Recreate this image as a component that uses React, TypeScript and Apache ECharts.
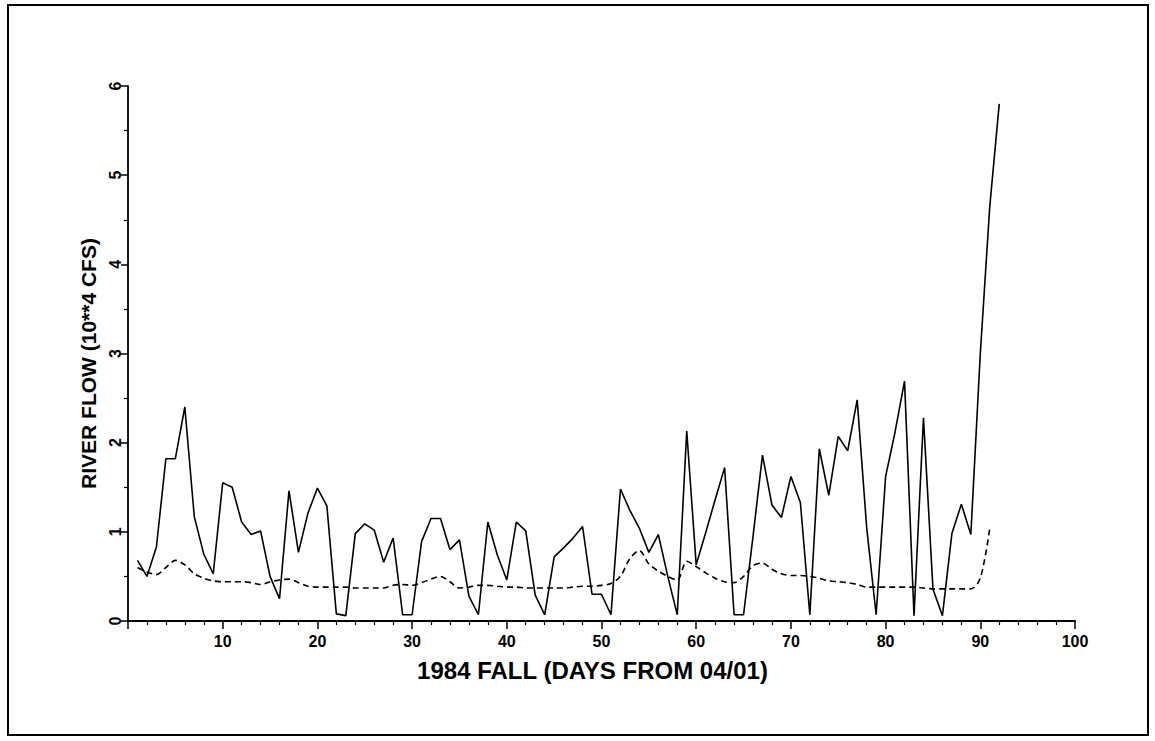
import React, { useEffect, useRef } from "react";
import * as echarts from "echarts";

// Daily river flow (10**4 CFS), days 1..92 from 04/01
const flowObserved: number[] = [
  0.68, 0.5, 0.83, 1.82, 1.82, 2.4, 1.17, 0.75, 0.53, 1.55,
  1.5, 1.11, 0.97, 1.01, 0.5, 0.25, 1.46, 0.77, 1.21, 1.49,
  1.29, 0.08, 0.06, 0.98, 1.09, 1.02, 0.66, 0.93, 0.07, 0.07,
  0.89, 1.15, 1.15, 0.8, 0.91, 0.28, 0.07, 1.11, 0.74, 0.46,
  1.11, 1.01, 0.29, 0.07, 0.72, 0.82, 0.93, 1.06, 0.3, 0.3,
  0.07, 1.48, 1.24, 1.04, 0.77, 0.97, 0.5, 0.07, 2.13, 0.63,
  0.99, 1.36, 1.72, 0.07, 0.07, 0.95, 1.86, 1.3, 1.16, 1.62,
  1.33, 0.07, 1.93, 1.41, 2.07, 1.91, 2.48, 1.05, 0.07, 1.62,
  2.12, 2.69, 0.06, 2.28, 0.36, 0.06, 0.98, 1.31, 0.97, 3.0,
  4.65, 5.8,
];

// Smoothed / baseline flow (dashed), days 1..91
const flowBaseline: number[] = [
  0.6, 0.55, 0.52, 0.6, 0.68, 0.63, 0.53, 0.48, 0.45, 0.44,
  0.44, 0.44, 0.43, 0.41, 0.44, 0.46, 0.47, 0.43, 0.39, 0.38,
  0.38, 0.38, 0.38, 0.37, 0.37, 0.37, 0.37, 0.4, 0.41, 0.4,
  0.43, 0.47, 0.5, 0.44, 0.37, 0.38, 0.4, 0.4, 0.39, 0.38,
  0.38, 0.37, 0.37, 0.37, 0.37, 0.37, 0.38, 0.39, 0.39, 0.4,
  0.42, 0.5, 0.7, 0.79, 0.64, 0.56, 0.5, 0.46, 0.67, 0.61,
  0.54, 0.48, 0.44, 0.43, 0.5, 0.62, 0.65, 0.58, 0.53, 0.51,
  0.51, 0.5, 0.48, 0.45, 0.44, 0.43, 0.41, 0.38, 0.38, 0.38,
  0.38, 0.38, 0.38, 0.37, 0.36, 0.36, 0.36, 0.36, 0.36, 0.48,
  1.04,
];

const xTitle = "1984 FALL (DAYS FROM 04/01)";
const yTitle = "RIVER FLOW (10**4 CFS)";

const FONT = "'Liberation Sans', Arial, Helvetica, sans-serif";

export default function App() {
  const ref = useRef<HTMLDivElement>(null);

  useEffect(() => {
    if (!ref.current) return;
    const chart = echarts.init(ref.current, undefined, { renderer: "svg" });
    const toPairs = (arr: number[]) => arr.map((v, i) => [i + 1, v]);

    chart.setOption({
      animation: false,
      backgroundColor: "#ffffff",
      grid: { left: 128, right: 80, top: 86, bottom: 120, containLabel: false },
      xAxis: {
        type: "value",
        min: 0,
        max: 100,
        interval: 10,
        name: xTitle,
        nameLocation: "middle",
        nameGap: 37,
        nameTextStyle: {
          fontFamily: FONT,
          fontWeight: "bold",
          fontSize: 24,
          color: "#000",
          padding: [0, 18, 0, 0],
        },
        axisLine: { show: true, onZero: false, lineStyle: { color: "#000", width: 2 } },
        axisTick: { show: true, length: 8, lineStyle: { color: "#000", width: 1.5 } },
        minorTick: { show: true, splitNumber: 5, length: 4, lineStyle: { color: "#000", width: 1.2 } },
        splitLine: { show: false },
        minorSplitLine: { show: false },
        axisLabel: {
          margin: 12,
          fontFamily: FONT,
          fontWeight: "bold",
          fontSize: 16,
          color: "#000",
          formatter: (v: number) => (v === 0 ? "" : String(v)),
        },
      },
      yAxis: {
        type: "value",
        min: 0,
        max: 6,
        interval: 1,
        name: yTitle,
        nameLocation: "middle",
        nameRotate: 90,
        nameGap: 21,
        nameTextStyle: {
          fontFamily: FONT,
          fontWeight: "bold",
          fontSize: 21,
          color: "#000",
          padding: [0, 20, 0, 0],
        },
        axisLine: { show: true, onZero: false, lineStyle: { color: "#000", width: 1.8 } },
        axisTick: { show: true, length: 7, lineStyle: { color: "#000", width: 1.5 } },
        minorTick: { show: true, splitNumber: 2, length: 4, lineStyle: { color: "#000", width: 1.2 } },
        splitLine: { show: false },
        minorSplitLine: { show: false },
        axisLabel: {
          rotate: 90,
          margin: 5,
          fontFamily: FONT,
          fontWeight: "bold",
          fontSize: 16,
          color: "#000",
        },
      },
      series: [
        {
          name: "Observed",
          type: "line",
          data: toPairs(flowObserved),
          showSymbol: false,
          symbol: "none",
          lineStyle: { color: "#000", width: 1.6 },
          z: 3,
        },
        {
          name: "Baseline",
          type: "line",
          data: toPairs(flowBaseline),
          showSymbol: false,
          symbol: "none",
          smooth: 0.3,
          lineStyle: { color: "#000", width: 1.6, type: [6, 4] },
          z: 2,
        },
      ],
      graphic: [
        {
          type: "rect",
          shape: { x: 8, y: 5, width: 1140, height: 730 },
          style: { fill: "none", stroke: "#000", lineWidth: 2 },
          silent: true,
        },
      ],
    });

    return () => {
      chart.dispose();
    };
  }, []);

  return (
    <div
      ref={ref}
      style={{ position: "absolute", left: 0, top: 0, width: 1155, height: 741, background: "#fff" }}
    />
  );
}
